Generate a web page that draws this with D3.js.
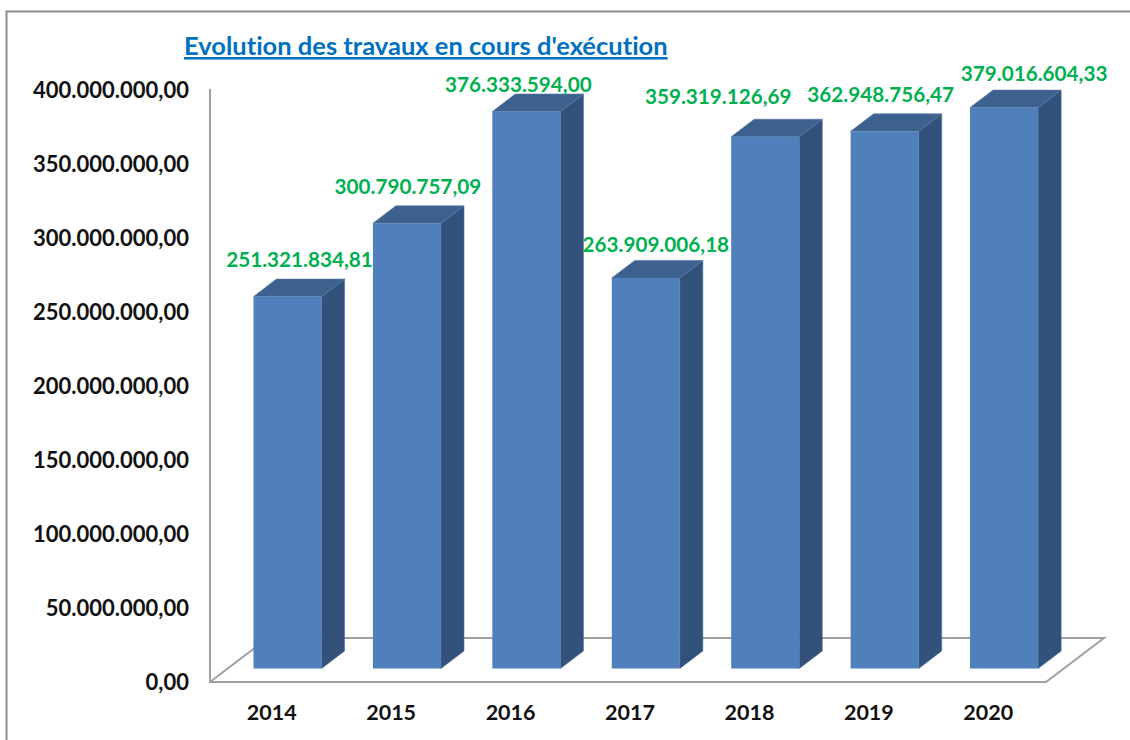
<!DOCTYPE html>
<html>
<head>
<meta charset="utf-8">
<script src="https://cdn.jsdelivr.net/npm/d3@7"></script>
<style>
  html, body { margin: 0; padding: 0; background: #fff; }
  svg { display: block; }
  text { font-family: Lato, "Open Sans", sans-serif; font-weight: 700; font-variant-ligatures: none; }
</style>
</head>
<body>
<div class="visHolder"></div>
<script>
// chart values
var years = ['2014', '2015', '2016', '2017', '2018', '2019', '2020'];
var values = [251321834.81, 300790757.09, 376333594.00, 263909006.18, 359319126.69, 362948756.47, 379016604.33];
var tickValues = [0, 50000000, 100000000, 150000000, 200000000, 250000000, 300000000, 350000000, 400000000];
var titleText = "Evolution des travaux en cours d'exécution";

// Setting sizes
var width = 1130,
    height = 740,
    plotLeft = 210,
    plotRight = 1046,
    plotBottom = 682,
    plotTop = 90,
    floorX = 58,    // floor depth
    floorY = 44,
    barDepthX = 23, // bar side depth
    barDepthY = 17.5,
    barLift = 13.5, // bars stand in the middle of the floor
    barShift = 17.8;

// labels were placed by hand in the original, so they don't follow a rule
var labelNudge = [[12, -37], [1, -37], [-8, -27], [10, -33], [-47, -40], [-4, -37], [30, -34]];

// french style numbers: 400.000.000,00
var frFormat = d3.formatLocale({ decimal: ',', thousands: '.', grouping: [3], currency: ['', ''] }).format(',.2f');

var svg = d3.select('.visHolder')
  .append('svg')
  .attr('width', width)
  .attr('height', height);

// outer frame, open on the right and at the bottom
svg.append('path')
  .attr('d', 'M6.5,' + height + 'V11.5H' + width)
  .attr('fill', 'none')
  .attr('stroke', '#8c8c8c')
  .attr('stroke-width', 2);

var xScale = d3.scaleBand()
  .domain(years)
  .range([plotLeft, plotRight])
  .paddingInner(0.43)
  .paddingOuter(0.215);

var yScale = d3.scaleLinear()
  .domain([0, 400000000])
  .range([plotBottom, plotTop]);

// floor and wall
var floor = svg.append('g')
  .attr('fill', 'none')
  .attr('stroke', '#a0a0a0')
  .attr('stroke-width', 2);

floor.append('path')
  .attr('d', 'M' + plotLeft + ',' + (plotTop - 1) + 'V' + plotBottom + 'H' + plotRight +
    'L' + (plotRight + floorX) + ',' + (plotBottom - floorY) + 'H' + (plotLeft + floorX) + 'L' + plotLeft + ',' + plotBottom);

// y axis
var yAxis = d3.axisLeft(yScale)
  .tickValues(tickValues)
  .tickFormat(frFormat)
  .tickSize(0)
  .tickPadding(21);

var yAxisGroup = svg.append('g')
  .attr('id', 'y-axis')
  .attr('transform', 'translate(' + plotLeft + ', 0)')
  .call(yAxis);

yAxisGroup.select('.domain').remove();
yAxisGroup.selectAll('text')
  .attr('fill', '#111')
  .style('font-size', '22px')
  .style('font-family', 'Lato, sans-serif');

// x axis
var xAxis = d3.axisBottom(xScale)
  .tickSize(0)
  .tickPadding(23);

var xAxisGroup = svg.append('g')
  .attr('id', 'x-axis')
  .attr('transform', 'translate(2, ' + plotBottom + ')')
  .call(xAxis);

xAxisGroup.select('.domain').remove();
xAxisGroup.selectAll('text')
  .attr('fill', '#111')
  .style('font-size', '21.5px')
  .style('font-family', 'Lato, sans-serif');

// bars: side, top, then front
var bars = svg.selectAll('.bar')
  .data(values)
  .enter()
  .append('g')
  .attr('class', 'bar');

function barX(i) { return xScale(years[i]) + barShift; }
function barTop(d) { return yScale(d) - barLift; }
var barFoot = yScale(0) - barLift;

bars.append('path')
  .attr('fill', '#33527b')
  .attr('stroke', '#4a6c98')
  .attr('stroke-width', 0.6)
  .attr('d', function(d, i) {
    var x = barX(i) + xScale.bandwidth();
    return 'M' + x + ',' + barTop(d) + 'l' + barDepthX + ',' + (-barDepthY) +
      'V' + (barFoot - barDepthY) + 'L' + x + ',' + barFoot + 'Z';
  });

bars.append('path')
  .attr('fill', '#3d618f')
  .attr('stroke', '#56789f')
  .attr('stroke-width', 0.6)
  .attr('d', function(d, i) {
    return 'M' + barX(i) + ',' + barTop(d) + 'l' + barDepthX + ',' + (-barDepthY) +
      'h' + xScale.bandwidth() + 'l' + (-barDepthX) + ',' + barDepthY + 'Z';
  });

bars.append('rect')
  .attr('x', function(d, i) { return barX(i); })
  .attr('y', barTop)
  .attr('width', xScale.bandwidth())
  .attr('height', function(d) { return barFoot - barTop(d); })
  .attr('fill', '#4f80bc');

// value labels
svg.selectAll('.value')
  .data(values)
  .enter()
  .append('text')
  .attr('class', 'value')
  .attr('x', function(d, i) { return barX(i) + xScale.bandwidth() / 2 + labelNudge[i][0]; })
  .attr('y', function(d, i) { return barTop(d) + labelNudge[i][1]; })
  .attr('dy', '0.35em')
  .attr('text-anchor', 'middle')
  .attr('fill', '#00b050')
  .style('font-size', '20.7px')
  .text(function(d) { return frFormat(d); });

// title
svg.append('text')
  .attr('x', 184)
  .attr('y', 55)
  .attr('fill', '#0070c0')
  .style('font-size', '25.5px')
  .style('text-decoration', 'underline')
  .text(titleText);
</script>
</body>
</html>
